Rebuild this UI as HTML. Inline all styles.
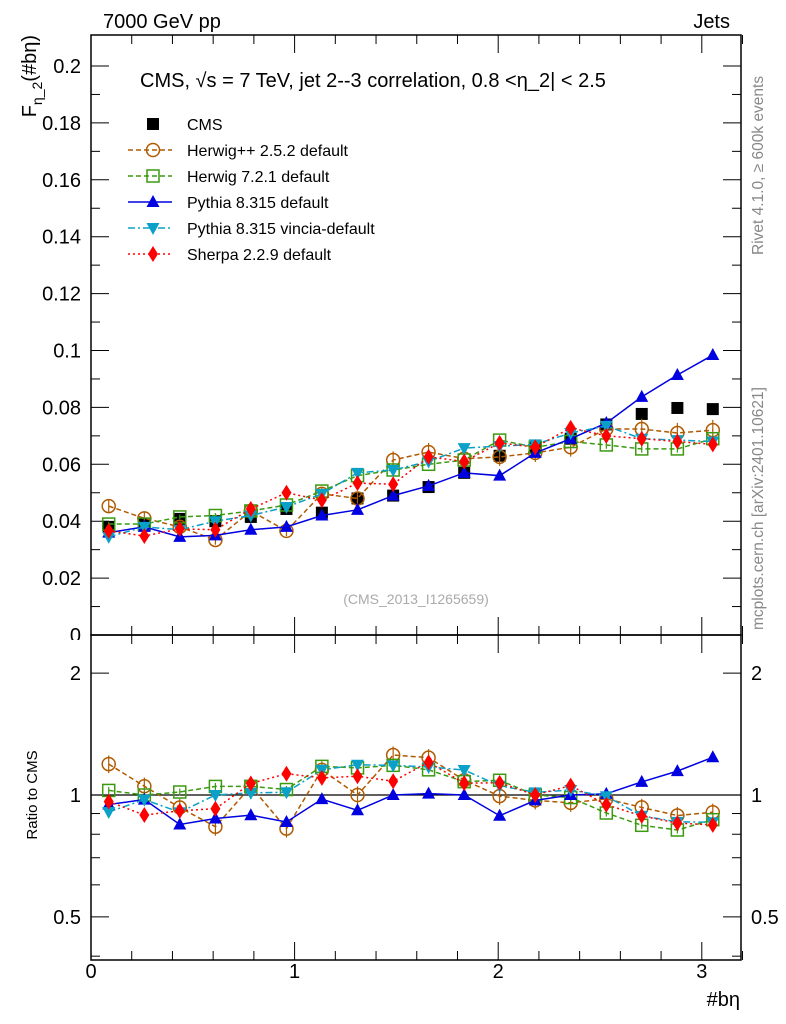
<!DOCTYPE html>
<html><head><meta charset="utf-8"><style>
body{margin:0;background:#fff;}
svg{display:block;font-family:"Liberation Sans",sans-serif;}
</style></head><body>
<svg id="c" width="786" height="1024" viewBox="0 0 786 1024">
<defs><clipPath id="zclip"><rect x="0" y="0" width="90" height="640"/></clipPath></defs>
<text x="103" y="28" font-size="20">7000 GeV pp</text>
<text x="730" y="28" font-size="20" text-anchor="end">Jets</text>
<text transform="translate(763,630) rotate(-90)" font-size="15.5" fill="#888" text-anchor="start">mcplots.cern.ch [arXiv:2401.10621]</text>
<text transform="translate(763,255) rotate(-90)" font-size="15.5" fill="#888">Rivet 4.1.0, ≥ 600k events</text>
<text transform="translate(36,35) rotate(-90)" font-size="20" text-anchor="end">F<tspan font-size="14" dy="6">η_2</tspan><tspan dy="-6">(#bη)</tspan></text>
<text transform="translate(37,795) rotate(-90)" font-size="15" text-anchor="middle">Ratio to CMS</text>
<text x="740" y="1006" font-size="20" text-anchor="end">#bη</text>
<text x="140" y="87" font-size="20">CMS, √s = 7 TeV, jet 2--3 correlation, 0.8 &lt;η_2| &lt; 2.5</text>
<text x="416" y="604" font-size="14" fill="#aaa" text-anchor="middle">(CMS_2013_I1265659)</text>
<g id="axes"></g><g id="series"></g><g id="legend"></g>
</svg>
<script>
const xCenters=[0.087,0.262,0.436,0.611,0.785,0.960,1.134,1.309,1.484,1.658,1.833,2.007,2.182,2.356,2.531,2.705,2.880,3.054];
const cmsVals=[0.038,0.039,0.0408,0.040,0.0415,0.0443,0.043,0.048,0.049,0.052,0.057,0.063,0.066,0.069,0.074,0.0777,0.0798,0.0794];
const herwigppVals=[0.0453,0.041,0.038,0.0334,0.0436,0.0366,0.0496,0.048,0.0615,0.0643,0.062,0.0626,0.064,0.066,0.0724,0.0724,0.071,0.072];
const herwig7Vals=[0.039,0.039,0.0415,0.042,0.0436,0.0457,0.0506,0.056,0.058,0.060,0.0615,0.0685,0.066,0.068,0.0668,0.0654,0.0654,0.069];
const pythiaVals=[0.036,0.038,0.0345,0.035,0.037,0.038,0.042,0.044,0.049,0.0524,0.057,0.056,0.064,0.069,0.0745,0.0837,0.0914,0.0984];
const vinciaVals=[0.0345,0.038,0.037,0.040,0.042,0.045,0.0496,0.057,0.058,0.061,0.0657,0.0664,0.067,0.071,0.0735,0.069,0.0685,0.068];
const sherpaVals=[0.0366,0.0348,0.0373,0.037,0.0443,0.050,0.0474,0.0534,0.053,0.0626,0.061,0.0675,0.066,0.0728,0.070,0.069,0.068,0.067];
const yTicks=[0,0.02,0.04,0.06,0.08,0.1,0.12,0.14,0.16,0.18,0.2];
const yTickLabels=["0","0.02","0.04","0.06","0.08","0.1","0.12","0.14","0.16","0.18","0.2"];
const rTicks=[0.5,1,2];
const rTickLabels=["0.5","1","2"];
const xTicks=[0,1,2,3];

const NS="http://www.w3.org/2000/svg";
const L=91,R=741,T=35,M=635,B=960;
const X=v=>L+v*203.6;
const Y=v=>M-v*2845;
const RY=v=>795-Math.log10(v)*405;
function mk(tag,attrs,parent){const e=document.createElementNS(NS,tag);for(const k in attrs)e.setAttribute(k,attrs[k]);parent.appendChild(e);return e;}
const ax=document.getElementById('axes');
let fr=mk('rect',{x:L,y:T,width:R-L,height:M-T,fill:'none',stroke:'#000','stroke-width':1.5},ax);

let fr2=mk('rect',{x:L,y:M,width:R-L,height:B-M,fill:'none',stroke:'#000','stroke-width':1.5},ax);

for(let i=0;i<=16;i++){const v=i*0.2;const x=X(v);const major=Math.abs(v-Math.round(v))<1e-6;const len=major?18:9;
 mk('line',{x1:x,y1:M,x2:x,y2:M-len,stroke:'#000'},ax);mk('line',{x1:x,y1:T,x2:x,y2:T+len,stroke:'#000'},ax);
 mk('line',{x1:x,y1:B,x2:x,y2:B-len,stroke:'#000'},ax);mk('line',{x1:x,y1:M,x2:x,y2:M+len,stroke:'#000'},ax);}
xTicks.forEach(v=>{const t=mk('text',{x:X(v),y:978,'font-size':20,'text-anchor':'middle'},ax);t.textContent=String(v);
 });
for(let i=0;i<=20;i++){const v=i*0.01;const y=Y(v);if(y<T)continue;const len=i%2==0?18:9;
 mk('line',{x1:L,y1:y,x2:L+len,y2:y,stroke:'#000'},ax);mk('line',{x1:R,y1:y,x2:R-len,y2:y,stroke:'#000'},ax);}
yTicks.forEach((v,i)=>{const t=mk('text',{x:81,y:Y(v)+7,'font-size':20,'text-anchor':'end','clip-path':'url(#zclip)'},ax);t.textContent=yTickLabels[i];
 });
[0.4,0.5,0.6,0.7,0.8,0.9,1,2].forEach(v=>{const y=RY(v);if(y>B||y<M)return;const major=rTicks.includes(v);const len=major?18:9;
 mk('line',{x1:L,y1:y,x2:L+len,y2:y,stroke:'#000'},ax);mk('line',{x1:R,y1:y,x2:R-len,y2:y,stroke:'#000'},ax);});
rTicks.forEach((v,i)=>{let t=mk('text',{x:81,y:RY(v)+7,'font-size':20,'text-anchor':'end'},ax);t.textContent=rTickLabels[i];
 
 t=mk('text',{x:751,y:RY(v)+7,'font-size':20,'text-anchor':'start'},ax);t.textContent=rTickLabels[i];
 });
let one=mk('line',{x1:L,y1:RY(1),x2:R,y2:RY(1),stroke:'#000','stroke-width':1.2},ax);


const sg=document.getElementById('series');
function marker(g,type,x,y,col){
 if(type==='sq')mk('rect',{x:x-6,y:y-6,width:12,height:12,fill:'#000'},g);
 else if(type==='circ')mk('circle',{cx:x,cy:y,r:6.5,fill:'none',stroke:col,'stroke-width':1.5},g);
 else if(type==='osq')mk('rect',{x:x-6,y:y-6,width:12,height:12,fill:'none',stroke:col,'stroke-width':1.5},g);
 else if(type==='tri')mk('polygon',{points:`${x},${y-7} ${x-6.5},${y+5} ${x+6.5},${y+5}`,fill:col},g);
 else if(type==='dtri')mk('polygon',{points:`${x},${y+7} ${x-6.5},${y-5} ${x+6.5},${y-5}`,fill:col},g);
 else if(type==='dia')mk('polygon',{points:`${x},${y-8} ${x-5},${y} ${x},${y+8} ${x+5},${y}`,fill:col},g);
}
const series=[
 {name:'herwigpp',vals:herwigppVals,col:'#b05a00',m:'circ',dash:'5,3',err:0.05},
 {name:'herwig7',vals:herwig7Vals,col:'#3a9a10',m:'osq',dash:'5,3',err:0.02},
 {name:'pythia',vals:pythiaVals,col:'#0000e0',m:'tri',dash:'',err:0.015},
 {name:'vincia',vals:vinciaVals,col:'#0aa0c8',m:'dtri',dash:'7,3,2,3',err:0.02},
 {name:'sherpa',vals:sherpaVals,col:'#ff0000',m:'dia',dash:'2,3',err:0.03},
];
const cg=mk('g',{},sg);
cmsVals.forEach((v,i)=>marker(cg,'sq',X(xCenters[i]),Y(v),'#000'));
series.forEach(s=>{
 const g=mk('g',{},sg);
 
 
 const pts=s.vals.map((v,i)=>X(xCenters[i])+','+Y(v)).join(' ');
 mk('polyline',{points:pts,fill:'none',stroke:s.col,'stroke-width':1.5,'stroke-dasharray':s.dash},g);
 const rpts=s.vals.map((v,i)=>X(xCenters[i])+','+RY(v/cmsVals[i])).join(' ');
 mk('polyline',{points:rpts,fill:'none',stroke:s.col,'stroke-width':1.5,'stroke-dasharray':s.dash},g);
 s.vals.forEach((v,i)=>{const x=X(xCenters[i]);const e=v*s.err;
  mk('line',{x1:x,y1:Y(v-e),x2:x,y2:Y(v+e),stroke:s.col,'stroke-width':1.2},g);
  const r=v/cmsVals[i];const re=r*s.err;
  mk('line',{x1:x,y1:RY(r-re),x2:x,y2:RY(r+re),stroke:s.col,'stroke-width':1.2},g);
  marker(g,s.m,x,Y(v),s.col);marker(g,s.m,x,RY(r),s.col);});
});
const lg=document.getElementById('legend');
const legItems=[['CMS','sq','#000',''],['Herwig++ 2.5.2 default','circ','#b05a00','5,3'],['Herwig 7.2.1 default','osq','#3a9a10','5,3'],
 ['Pythia 8.315 default','tri','#0000e0',''],['Pythia 8.315 vincia-default','dtri','#0aa0c8','7,3,2,3'],['Sherpa 2.2.9 default','dia','#ff0000','2,3']];
legItems.forEach((it,i)=>{const y=124+i*26;const g=mk('g',{},lg);
 
 
 if(i>0)mk('line',{x1:128,y1:y,x2:172,y2:y,stroke:it[2],'stroke-width':1.5,'stroke-dasharray':it[3]},g);
 marker(g,it[1],153,y,it[2]);
 const t=mk('text',{x:187,y:y+6,'font-size':16},g);t.textContent=it[0];});
</script>
</body></html>
